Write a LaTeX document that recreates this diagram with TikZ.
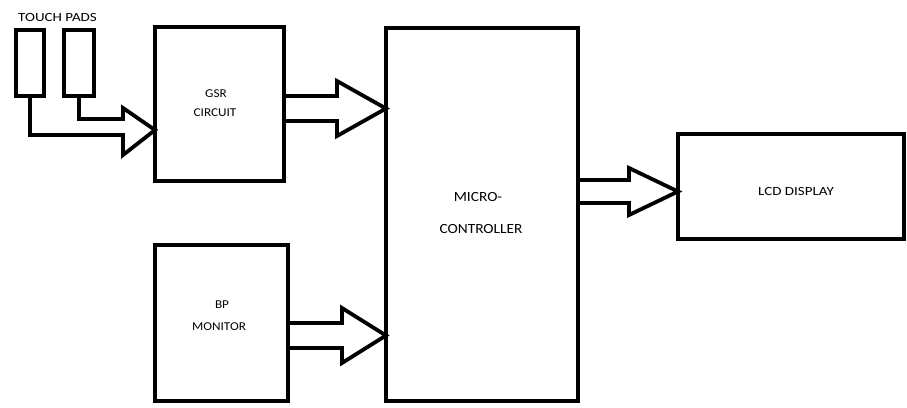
\documentclass[tikz,border=0pt]{standalone}
\usepackage{fontspec}
\setmainfont{Carlito}
\newfontfamily\widefont[FakeStretch=1.2]{Carlito}
\newfontfamily\midfont[FakeStretch=1.1]{Carlito}
\usetikzlibrary{calc}
\tikzset{
  blk/.style={draw=black, line width=3.8pt, rectangle, inner sep=0pt, outer sep=0pt},
  lbl/.style={font=\midfont\fontsize{12}{14}\selectfont, text=black, inner sep=0pt},
  wlbl/.style={font=\widefont\fontsize{12.5}{14}\selectfont, text=black, inner sep=0pt},
  mlbl/.style={font=\midfont\fontsize{14}{16}\selectfont, text=black, inner sep=0pt},
  fat/.style={draw=black, line width=3.8pt, line join=miter},
}
\newcommand\fatarrow[6]{%
  \path (#1.east |- 0,#3) coordinate (s) (#2.west |- 0,#3) coordinate (t);
  \draw[fat] ($(s)+(0,-#4)$) -- ($(t)+(-#6,-#4)$) -- ($(t)+(-#6,-#5)$) -- (t)
     -- ($(t)+(-#6,#5)$) -- ($(t)+(-#6,#4)$) -- ($(s)+(0,#4)$);
}
\begin{document}
\begin{tikzpicture}[x=1pt,y=-1pt]
\useasboundingbox (0,0) rectangle (907,407);
\fill[white] (0,0) rectangle (907,407);
% boxes
\node[blk, minimum width=28, minimum height=66] (pad1) at (30,63) {};
\node[blk, minimum width=30, minimum height=66] (pad2) at (79,63) {};
\node[blk, minimum width=129, minimum height=154] (gsr) at (219.5,104) {};
\node[blk, minimum width=192, minimum height=373] (mcu) at (482,214.5) {};
\node[blk, minimum width=226, minimum height=105] (lcd) at (791,186.5) {};
\node[blk, minimum width=133, minimum height=156] (bp) at (221.5,323) {};
% labels
\node[wlbl] (tpl) at (57.5,17) {TOUCH PADS};
\node[lbl] (gsr1) at (216,94) {GSR};
\node[lbl] (gsr2) at (215,113) {CIRCUIT};
\node[mlbl] (mcu1) at (478,197) {MICRO-};
\node[mlbl] (mcu2) at (481,229) {CONTROLLER};
\node[wlbl] (lcd1) at (796,191) {LCD DISPLAY};
\node[lbl] (bp1) at (222,305) {BP};
\node[lbl] (bp2) at (219,327) {MONITOR};
% touch pads merged arrow
\coordinate (hx) at (123,0);
\draw[fat] (pad2.south) -- (pad2.south |- 0,119) -- (hx |- 0,119) -- (hx |- 0,108)
  -- (gsr.west |- 0,130) -- (hx |- 0,155) -- (hx |- 0,135) -- (pad1.south |- 0,135) -- (pad1.south);
% fat arrows
\fatarrow{gsr}{mcu}{108.5}{12.5}{27.5}{49}
\fatarrow{bp}{mcu}{335.5}{12.5}{27.5}{44}
\fatarrow{mcu}{lcd}{191.5}{11.5}{23.5}{49}
\end{tikzpicture}
\end{document}
